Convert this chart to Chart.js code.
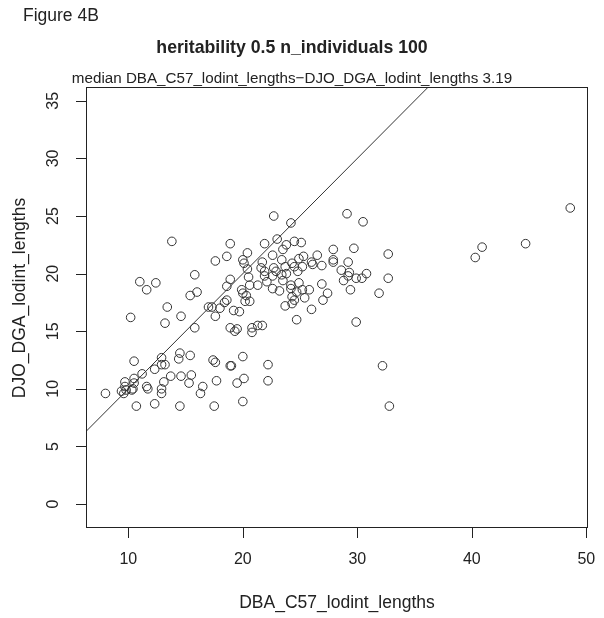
<!DOCTYPE html>
<html>
<head>
<meta charset="utf-8">
<script src="https://cdn.jsdelivr.net/npm/chart.js@4/dist/chart.umd.min.js"></script>
<style>
  html, body { margin: 0; padding: 0; background: #fff; }
  canvas { display: block; }
</style>
</head>
<body>
<canvas id="scatterChart" width="604" height="618"></canvas>
<script>
// Lodint lengths per locus (x = DBA_C57, y = DJO_DGA)
const dbaC57 = [
  13.8, 15.8, 11.0, 12.4, 11.6, 16.0, 15.4, 13.4, 17.0, 10.2, 14.6, 13.2, 15.8, 10.5, 12.9, 14.5,
  14.4, 15.4, 12.9, 13.2, 12.3, 11.2, 10.5, 9.7, 10.5, 9.7, 10.4, 9.4, 10.3, 11.6, 11.7, 13.7,
  14.6, 15.5, 15.3, 13.1, 12.9, 12.9, 16.5, 16.3, 8.0, 9.6, 9.8, 10.7, 12.3, 14.5,
  22.7, 24.2, 18.9, 21.9, 23.0, 23.8, 24.5, 25.1, 23.5, 17.6, 18.6, 20.4, 20.0, 20.1, 21.7, 22.6,
  23.4, 24.3, 24.9, 25.3, 26.0, 20.4, 21.6, 21.9, 22.7, 22.9, 23.7, 24.5, 25.2, 24.8, 20.5, 21.9,
  22.6, 23.4, 23.8, 18.9, 18.6, 20.6, 21.3, 22.1, 23.5, 24.2, 24.9, 19.9, 20.0, 22.6, 23.2, 24.2,
  24.7, 25.2, 25.8, 20.3, 24.3, 25.4, 18.6, 18.4, 20.2, 20.6, 24.5, 23.7, 24.3, 17.3, 18.0, 19.2,
  19.7, 17.6, 26.0, 24.7, 18.9, 19.5, 20.8, 21.3, 21.7,
  19.3, 20.8, 17.4, 17.6, 18.9, 19.0, 20.0, 22.2, 17.7, 19.5, 20.1, 22.2, 20.0, 17.5,
  29.1, 30.5, 27.9, 29.7, 32.7, 26.5, 27.9, 27.9, 26.1, 26.9, 29.2, 28.6, 29.3, 29.2, 28.8, 29.9,
  30.4, 30.8, 32.7, 29.4, 31.9, 26.9, 27.4, 27.0, 29.9,
  32.2, 32.8, 48.6, 44.7, 40.9, 40.3
];
const djoDga = [
  22.8, 19.9, 19.3, 19.2, 18.6, 18.4, 18.1, 17.1, 17.1, 16.2, 16.3, 15.7, 15.3, 12.4, 12.7, 13.1,
  12.6, 12.9, 12.1, 12.1, 11.7, 11.3, 10.9, 10.6, 10.5, 10.2, 10.0, 9.8, 9.9, 10.2, 10.0, 11.1,
  11.1, 11.2, 10.5, 10.6, 10.0, 9.6, 10.2, 9.6, 9.6, 9.6, 9.9, 8.5, 8.7, 8.5,
  25.0, 24.4, 22.6, 22.6, 23.0, 22.5, 22.8, 22.7, 22.1, 21.1, 21.5, 21.8, 21.2, 20.9, 21.0, 21.6,
  21.2, 20.9, 21.3, 21.5, 21.0, 20.4, 20.5, 20.2, 20.5, 20.2, 20.6, 20.6, 20.6, 20.2, 19.7, 19.8,
  19.8, 19.9, 20.0, 19.5, 18.9, 19.0, 19.0, 19.3, 19.4, 19.0, 19.2, 18.6, 18.3, 18.7, 18.5, 18.7,
  18.4, 18.6, 18.6, 18.1, 18.0, 17.9, 17.7, 17.5, 17.6, 17.6, 17.7, 17.2, 17.4, 17.1, 17.0, 16.8,
  16.7, 16.3, 16.9, 16.0, 15.3, 15.2, 15.3, 15.5, 15.5,
  15.0, 14.9, 12.5, 12.3, 12.0, 12.0, 12.8, 12.1, 10.7, 10.5, 10.9, 10.7, 8.9, 8.5,
  25.2, 24.5, 22.1, 22.2, 21.7, 21.6, 21.2, 21.0, 20.8, 20.7, 21.0, 20.3, 20.1, 19.8, 19.4, 19.6,
  19.6, 20.0, 19.6, 18.6, 18.3, 19.1, 18.3, 17.7, 15.8,
  12.0, 8.5, 25.7, 22.6, 22.3, 21.4
];

const xTicks = [10, 20, 30, 40, 50];
const yTicks = [0, 5, 10, 15, 20, 25, 30, 35];
const xRange = [6.3, 50.15];
const yRange = [-2.08, 36.2];

const figureLabel = 'Figure 4B';
const mainTitle = 'heritability 0.5 n_individuals 100';
const subTitle = 'median DBA_C57_lodint_lengths\u2212DJO_DGA_lodint_lengths 3.19';
const xTitle = 'DBA_C57_lodint_lengths';
const yTitle = 'DJO_DGA_lodint_lengths';

const FONT = '"Liberation Sans", Arial, sans-serif';
const INK = '#222';

const points = dbaC57.map((x, i) => ({ x: x, y: djoDga[i] }));
// y = x reference line over the x range
const identity = xRange.map(v => ({ x: v, y: v }));

// box, ticks, titles and rotated y labels the way base R draws them
const rAxes = {
  id: 'rAxes',
  afterDraw(chart) {
    const c = chart.ctx;
    const a = chart.chartArea;
    const xs = chart.scales.x;
    const ys = chart.scales.y;
    const L = Math.round(a.left), T = Math.round(a.top);
    const R = Math.round(a.right), B = Math.round(a.bottom);
    c.save();
    c.strokeStyle = INK;
    c.fillStyle = INK;
    c.lineWidth = 1;
    c.strokeRect(L + 0.5, T + 0.5, R - L - 1, B - T - 1);

    // tick marks outside the box
    xTicks.forEach(v => {
      const px = Math.round(xs.getPixelForValue(v));
      c.fillRect(px, B - 1, 1, 11);
    });
    yTicks.forEach(v => {
      const py = Math.round(ys.getPixelForValue(v));
      c.fillRect(L - 10, py, 11, 1);
    });

    c.textBaseline = 'alphabetic';
    c.textAlign = 'left';
    c.font = '17.5px ' + FONT;
    c.fillText(figureLabel, 23, 21);

    c.textAlign = 'center';
    c.font = 'bold 17.7px ' + FONT;
    c.fillText(mainTitle, 292, 53);
    c.font = '15.2px ' + FONT;
    c.fillText(subTitle, 292, 83);

    c.textBaseline = 'middle';
    c.font = '16px ' + FONT;
    xTicks.forEach(v => c.fillText(String(v), xs.getPixelForValue(v), 560));
    yTicks.forEach(v => {
      c.save();
      c.translate(54, ys.getPixelForValue(v));
      c.rotate(-Math.PI / 2);
      c.fillText(String(v), 0, 0);
      c.restore();
    });

    c.font = '17.5px ' + FONT;
    c.fillText(xTitle, 337, 603);
    c.save();
    c.translate(20, 298);
    c.rotate(-Math.PI / 2);
    c.fillText(yTitle, 0, 0);
    c.restore();
    c.restore();
  }
};

const hiddenAxis = {
  grid: { display: false, drawTicks: false },
  border: { display: false },
  ticks: { display: false }
};

const ctx = document.getElementById('scatterChart').getContext('2d');
const scatterChart = new Chart(ctx, {
  type: 'scatter',
  data: {
    datasets: [{
      label: 'loci',
      data: points,
      pointStyle: 'circle',
      pointRadius: 4.3,
      borderWidth: 1,
      borderColor: '#333',
      backgroundColor: 'rgba(0,0,0,0)',
    }, {
      label: 'y = x',
      data: identity,
      showLine: true,
      pointRadius: 0,
      borderWidth: 1,
      borderColor: '#333',
      clip: 0,
    }]
  },
  options: {
    responsive: false,
    animation: false,
    layout: { padding: { top: 87, right: 16, left: 0, bottom: 0 } },
    plugins: {
      legend: { display: false },
      tooltip: { enabled: false }
    },
    scales: {
      x: {
        type: 'linear',
        min: xRange[0],
        max: xRange[1],
        afterBuildTicks: s => { s.ticks = xTicks.map(v => ({ value: v })); },
        afterFit: s => { s.height = 90; s.paddingLeft = 0; s.paddingRight = 0; },
        ...hiddenAxis
      },
      y: {
        type: 'linear',
        min: yRange[0],
        max: yRange[1],
        afterBuildTicks: s => { s.ticks = yTicks.map(v => ({ value: v })); },
        afterFit: s => { s.width = 86; s.paddingTop = 0; s.paddingBottom = 0; },
        ...hiddenAxis
      }
    }
  },
  plugins: [rAxes]
});
</script>
</body>
</html>
